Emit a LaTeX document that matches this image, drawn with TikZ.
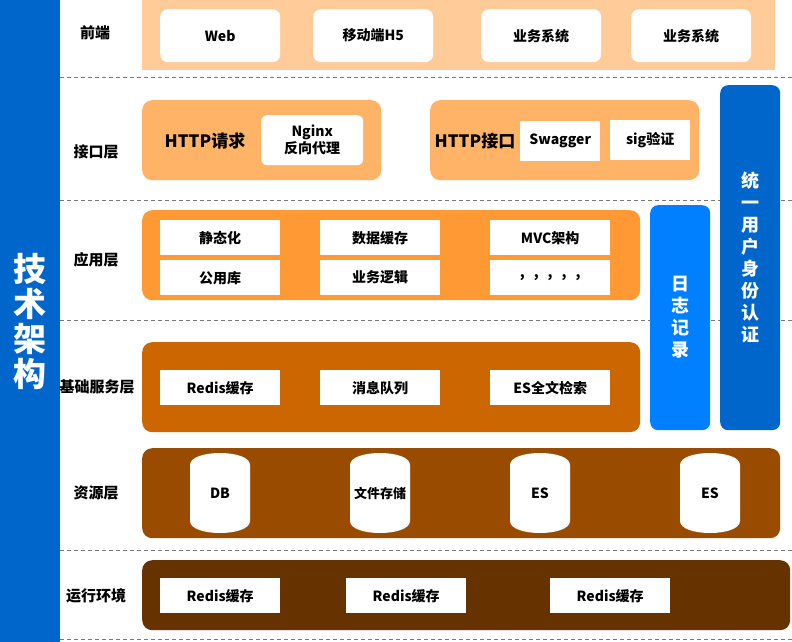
\documentclass[tikz,border=0pt]{standalone}
\usepackage{fontspec}
\setmainfont{Noto Sans CJK SC}
\usetikzlibrary{positioning}
\definecolor{archblue}{RGB}{0,102,204}
\definecolor{logblue}{RGB}{0,128,255}
\definecolor{frontpeach}{RGB}{255,204,153}
\definecolor{apiorange}{RGB}{255,179,102}
\definecolor{apporange}{RGB}{255,153,51}
\definecolor{basebrown}{RGB}{204,102,0}
\definecolor{resbrown}{RGB}{153,76,0}
\definecolor{runbrown}{RGB}{102,51,0}
\definecolor{sepgray}{RGB}{120,120,120}

\begin{document}
\begin{tikzpicture}[x=1pt, y=-1pt, font=\bfseries\fontsize{14}{16}\selectfont,
  layerlabel/.style={font=\bfseries\fontsize{15}{17}\selectfont},
  band/.style={anchor=north west, inner sep=0pt, rounded corners=10pt, minimum height=90pt},
  cell/.style={fill=white, anchor=north west, inner sep=0pt, minimum width=120pt, minimum height=35pt},
  vbar/.style={anchor=north west, inner sep=0pt, rounded corners=8pt, minimum width=60pt,
    text=white, align=center, font=\bfseries\fontsize{18}{22}\selectfont},
  sepline/.style={sepgray, dash pattern=on 4pt off 3pt}]
\useasboundingbox (0,0) rectangle (792,642);

% layer separators
\foreach \y in {77,200,320,550,639}
  \draw[sepline] (60,\y) -- (792,\y);

% title bar
\node[anchor=north west, fill=archblue, inner sep=0pt, minimum width=60pt, minimum height=642pt,
  text=white, align=center, font=\bfseries\fontsize{33}{35}\selectfont] (title) at (0,0)
  {技\\术\\架\\构};

% layer labels
\node[layerlabel] (lfront) at (95,33) {前端};
\node[layerlabel] (lapi) at (96,152) {接口层};
\node[layerlabel] (lapp) at (96,260) {应用层};
\node[layerlabel] (lbase) at (97,387) {基础服务层};
\node[layerlabel] (lres) at (96,493) {资源层};
\node[layerlabel] (lrun) at (96,596) {运行环境};

% front end
\node[anchor=north west, fill=frontpeach, minimum width=633pt, minimum height=70pt] (front) at (142,0) {};
\node[cell, rounded corners=8pt, minimum height=53pt] (web) at (160,9) {Web};
\node[cell, rounded corners=8pt, minimum height=53pt] (mobile) at (313,9) {移动端H5};
\node[cell, rounded corners=8pt, minimum height=53pt] (biz1) at (481,9) {业务系统};
\node[cell, rounded corners=8pt, minimum height=53pt] (biz2) at (631,9) {业务系统};

% interface layer
\node[band, fill=apiorange, minimum width=239pt, minimum height=80pt] (req) at (142,100) {};
\node[font=\bfseries\fontsize{17}{19}\selectfont] (reqtext) at (205,141) {HTTP请求};
\node[cell, rounded corners=6pt, minimum width=102pt, minimum height=50pt, align=center,
  font=\bfseries\fontsize{14}{17}\selectfont] (nginx) at (261,115) {Nginx\\反向代理};
\node[band, fill=apiorange, minimum width=269pt, minimum height=80pt] (api) at (430,100) {};
\node[font=\bfseries\fontsize{17}{19}\selectfont] (apitext) at (475,141) {HTTP接口};
\node[cell, minimum width=80pt, minimum height=40pt] (swagger) at (520,121) {Swagger};
\node[cell, minimum width=80pt, minimum height=40pt] (sig) at (610,120) {sig验证};

% side bars
\node[vbar, fill=archblue, minimum height=345pt] (auth) at (720,85) {统\\一\\用\\户\\身\\份\\认\\证};
\node[vbar, fill=logblue, minimum height=225pt] (log) at (650,205) {日\\志\\记\\录};

% application layer
\node[band, fill=apporange, minimum width=498pt] (app) at (142,210) {};
\node[cell] (static) at (160,220) {静态化};
\node[cell] (cache) at (320,220) {数据缓存};
\node[cell] (mvc) at (490,220) {MVC架构};
\node[cell] (common) at (160,260) {公用库};
\node[cell] (logic) at (320,260) {业务逻辑};
\node[cell] (more) at (490,260) {,\hspace{9pt},\hspace{9pt},\hspace{9pt},\hspace{9pt},};

% base services
\node[band, fill=basebrown, minimum width=498pt] (base) at (142,342) {};
\node[cell] (redis) at (160,370) {Redis缓存};
\node[cell] (mq) at (320,370) {消息队列};
\node[cell] (search) at (490,370) {ES全文检索};

% resources
\node[band, fill=resbrown, minimum width=638pt] (res) at (142,448) {};
\foreach \cx in {220,380,540,710}
  \fill[white] (\cx-30,493-28) .. controls (\cx-30,493-44) and (\cx+30,493-44) .. (\cx+30,493-28)
    -- (\cx+30,493+28) .. controls (\cx+30,493+44) and (\cx-30,493+44) .. (\cx-30,493+28) -- cycle;
\node (db) at (220,493) {DB};
\node[font=\bfseries\fontsize{13}{15}\selectfont] (files) at (380,493) {文件存储};
\node (es1) at (540,493) {ES};
\node (es2) at (710,493) {ES};

% runtime
\node[band, fill=runbrown, minimum width=648pt, minimum height=70pt] (run) at (142,560) {};
\node[cell] (run1) at (160,578) {Redis缓存};
\node[cell] (run2) at (346,578) {Redis缓存};
\node[cell] (run3) at (550,578) {Redis缓存};
\end{tikzpicture}
\end{document}
